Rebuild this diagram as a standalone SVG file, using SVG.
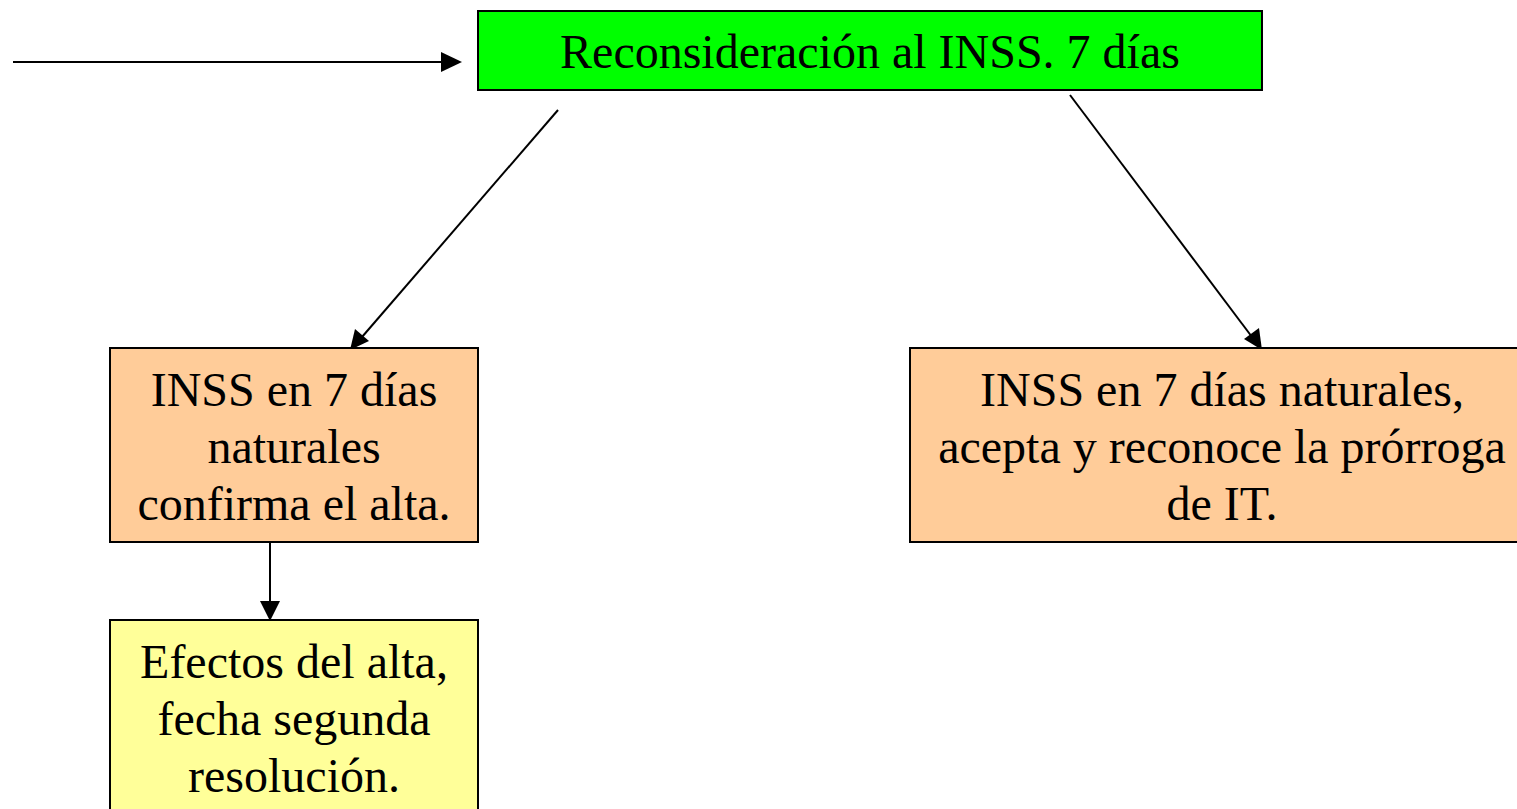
<svg xmlns="http://www.w3.org/2000/svg" width="1517" height="809" viewBox="0 0 1517 809">
<style>
.box{stroke:#000;stroke-width:2}
.t{font-family:"Liberation Serif","Times New Roman",serif;font-size:48px;fill:#000;text-anchor:middle}
.c{stroke:#000;stroke-width:2;fill:none}
.h{fill:#000}
</style>
<rect width="1517" height="809" fill="#fff"/>
<g id="connectors">
<line class="c" x1="13" y1="62" x2="444" y2="62"/>
<polygon class="h" points="441,52 462,62 441,72"/>
<line class="c" x1="558" y1="110" x2="362" y2="337"/>
<polygon class="h" points="350,350 355,329 369,341"/>
<line class="c" x1="1070" y1="95" x2="1252" y2="337"/>
<polygon class="h" points="1262,350 1244,339 1259,328"/>
<line class="c" x1="270" y1="542" x2="270" y2="603"/>
<polygon class="h" points="260,601 280,601 270,621"/>
</g>
<g id="n1">
<rect class="box" x="478" y="11" width="784" height="79" fill="#00ff00"/>
<text class="t" x="870" y="68">Reconsideración al INSS. 7 días</text>
</g>
<g id="n2">
<rect class="box" x="110" y="348" width="368" height="194" fill="#ffcc99"/>
<text class="t" x="294" y="406">INSS en 7 días</text>
<text class="t" x="294" y="463">naturales</text>
<text class="t" x="294" y="520">confirma el alta.</text>
</g>
<g id="n3">
<rect class="box" x="910" y="348" width="624" height="194" fill="#ffcc99"/>
<text class="t" x="1222" y="406">INSS en 7 días naturales,</text>
<text class="t" x="1222" y="463">acepta y reconoce la prórroga</text>
<text class="t" x="1222" y="520">de IT.</text>
</g>
<g id="n4">
<rect class="box" x="110" y="620" width="368" height="200" fill="#ffff99"/>
<text class="t" x="294" y="678">Efectos del alta,</text>
<text class="t" x="294" y="735">fecha segunda</text>
<text class="t" x="294" y="792">resolución.</text>
</g>
</svg>
